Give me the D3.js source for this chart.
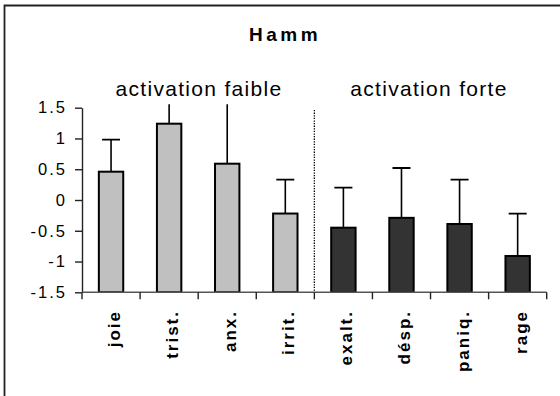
<!DOCTYPE html>
<html>
<head>
<meta charset="utf-8">
<script src="https://cdn.jsdelivr.net/npm/d3@7/dist/d3.min.js"></script>
<style>
  html, body { margin: 0; padding: 0; background: #fff; }
  svg { display: block; }
  text { font-family: Arial, "Liberation Sans", sans-serif; fill: #000; }
</style>
</head>
<body>
<svg id="chart" width="560" height="396"></svg>
<script>
// Emotion categories (two groups: low vs high activation)
const categories = ["joie", "trist.", "anx.", "irrit.", "exalt.", "désp.", "paniq.", "rage"];
const groups     = ["faible", "faible", "faible", "faible", "forte", "forte", "forte", "forte"];
// Mean scores and upper error amounts
const means  = [0.46, 1.24, 0.59, -0.22, -0.45, -0.29, -0.39, -0.91];
const errors = [0.52, 0.60, 1.10, 0.55, 0.65, 0.81, 0.72, 0.69];
const yTicks = [1.5, 1, 0.5, 0, -0.5, -1, -1.5];
const yTickLabels = ["1.5", "1", "0.5", "0", "-0.5", "-1", "-1.5"];
const groupLabels = ["activation faible", "activation forte"];
const title = "Hamm";

const svg = d3.select("#chart");

// Outer frame (right and bottom edges fall outside the canvas)
svg.append("path")
  .attr("d", "M4.5,400 L4.5,5.5 L565,5.5")
  .attr("fill", "none").attr("stroke", "#222").attr("stroke-width", 1.8);

const plotLeft = 82, plotRight = 546.7, plotTop = 107.7, plotBottom = 292.3;

const x = d3.scaleBand().domain(categories).range([plotLeft, plotRight]).padding(0);
const y = d3.scaleLinear().domain([-1.5, 1.5]).range([plotBottom, plotTop]);

const barW = x.bandwidth() * 0.42;
const color = { faible: "#c0c0c0", forte: "#333333" };

// Clip so error bars stop slightly above the plot top
svg.append("clipPath").attr("id", "plotClip")
  .append("rect").attr("x", plotLeft - 5).attr("y", plotTop - 3.5)
  .attr("width", plotRight - plotLeft + 10).attr("height", plotBottom - plotTop + 3.5);

const plot = svg.append("g").attr("clip-path", "url(#plotClip)");

// Error bars (upper whisker with cap)
const eb = plot.selectAll("g.err").data(categories).enter().append("g").attr("class", "err");
eb.append("line")
  .attr("x1", d => x(d) + x.bandwidth() / 2)
  .attr("x2", d => x(d) + x.bandwidth() / 2)
  .attr("y1", (d, i) => y(means[i]))
  .attr("y2", (d, i) => y(means[i] + errors[i]))
  .attr("stroke", "#000").attr("stroke-width", 1.6);
eb.append("line")
  .attr("x1", d => x(d) + x.bandwidth() / 2 - 9)
  .attr("x2", d => x(d) + x.bandwidth() / 2 + 9)
  .attr("y1", (d, i) => y(means[i] + errors[i]))
  .attr("y2", (d, i) => y(means[i] + errors[i]))
  .attr("stroke", "#000").attr("stroke-width", 1.8);

// Bars rise from the bottom of the axis (-1.5) to the mean
plot.selectAll("rect.bar").data(categories).enter().append("rect")
  .attr("class", "bar")
  .attr("x", d => x(d) + (x.bandwidth() - barW) / 2)
  .attr("width", barW)
  .attr("y", (d, i) => y(means[i]))
  .attr("height", (d, i) => y(-1.5) - y(means[i]))
  .attr("fill", (d, i) => color[groups[i]])
  .attr("stroke", "#000").attr("stroke-width", 2);

// Dotted separator between the two groups
svg.append("line")
  .attr("x1", x("exalt.")).attr("x2", x("exalt."))
  .attr("y1", 110).attr("y2", plotBottom)
  .attr("stroke", "#000").attr("stroke-width", 1.3)
  .attr("stroke-dasharray", "1.3,1.3");

// Y axis
const yAxis = d3.axisLeft(y).tickValues(yTicks)
  .tickFormat((d, i) => yTickLabels[i]).tickSize(7).tickPadding(8).tickSizeOuter(0);
const gy = svg.append("g").attr("transform", `translate(${plotLeft},0)`).call(yAxis);
gy.select(".domain").attr("stroke", "#222").attr("stroke-width", 1.4);
gy.selectAll(".tick line").attr("stroke", "#222").attr("stroke-width", 1.4);
gy.selectAll(".tick text")
  .style("font-family", "Arial, 'Liberation Sans', sans-serif")
  .style("font-size", "16.5px").style("letter-spacing", "2px").attr("fill", "#000");

// X axis: line plus ticks at category boundaries
const boundaries = categories.map(c => x(c)).concat([plotRight]);
svg.append("line").attr("x1", plotLeft).attr("x2", plotRight)
  .attr("y1", plotBottom).attr("y2", plotBottom)
  .attr("stroke", "#555").attr("stroke-width", 1.4);
svg.selectAll("line.xtick").data(boundaries).enter().append("line")
  .attr("class", "xtick")
  .attr("x1", d => d).attr("x2", d => d)
  .attr("y1", plotBottom).attr("y2", plotBottom + 7)
  .attr("stroke", "#222").attr("stroke-width", 1.4);

// Rotated category labels
svg.selectAll("text.cat").data(categories).enter().append("text")
  .attr("class", "cat")
  .attr("transform", d => `translate(${x(d) + x.bandwidth() / 2 + 9},310) rotate(-90)`)
  .attr("text-anchor", "end")
  .style("font-size", "17px").style("font-weight", "bold").style("letter-spacing", "2px")
  .text(d => d);

// Group headings
svg.append("text").attr("x", 199).attr("y", 96).attr("text-anchor", "middle")
  .style("font-size", "21px").style("letter-spacing", "1.3px").text(groupLabels[0]);
svg.append("text").attr("x", 429).attr("y", 96).attr("text-anchor", "middle")
  .style("font-size", "21px").style("letter-spacing", "1.3px").text(groupLabels[1]);

// Title
svg.append("text").attr("x", 285).attr("y", 41).attr("text-anchor", "middle")
  .style("font-size", "19px").style("font-weight", "bold").style("letter-spacing", "3.5px")
  .text(title);
</script>
</body>
</html>
